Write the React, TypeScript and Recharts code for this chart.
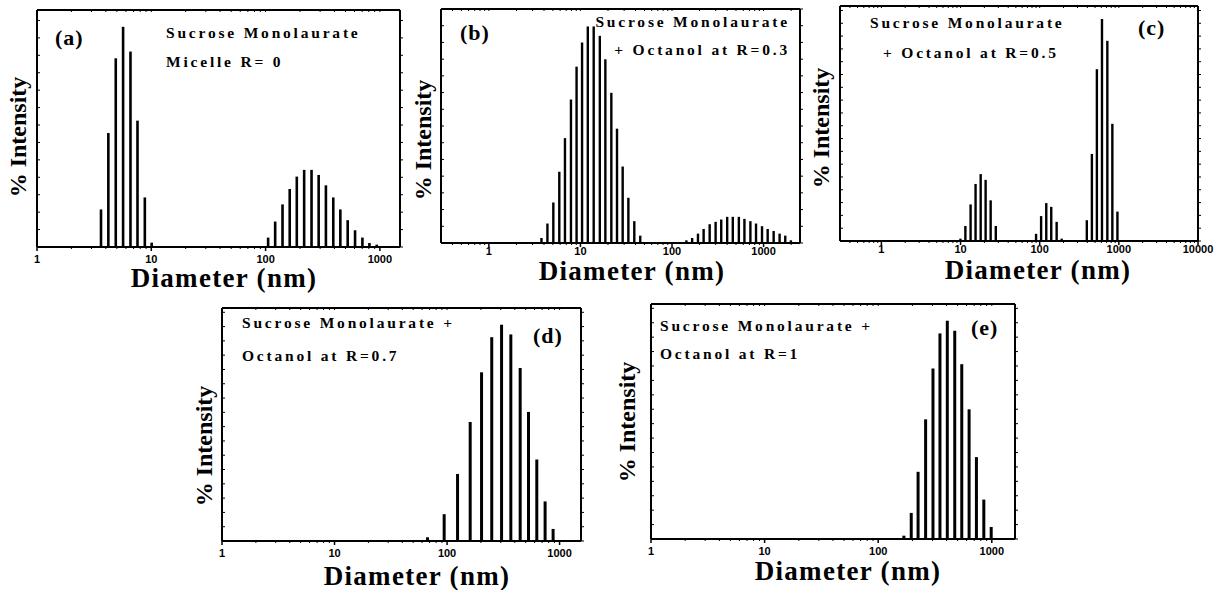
import React from "react";
import { BarChart, Bar, XAxis, YAxis } from "recharts";

// diameter bins (nm) and % intensity
const sizesA = [3.64, 4.22, 4.9, 5.68, 6.59, 7.59, 8.8, 10.1, 105.5, 121.6, 141, 163, 188, 218, 253, 292, 338, 392, 452, 524, 608, 705, 812, 941];
const intensityA = [4.31, 13.08, 21.66, 25.27, 22.43, 14.5, 5.69, 0.5, 1.08, 2.92, 4.89, 6.66, 8.08, 8.85, 8.85, 8.27, 7.08, 5.69, 4.31, 3.08, 1.92, 1.08, 0.46, 0.27];

const sizesB = [3.71, 4.31, 5.0, 5.81, 6.7, 7.79, 8.97, 10.3, 11.9, 13.8, 16.1, 18.5, 21.5, 24.8, 28.6, 33.0, 38.3, 44.5, 142, 164, 190, 219, 255, 296, 341, 396, 456, 531, 611, 710, 818, 951, 1096, 1274, 1480, 1706, 1965];
const intensityB = [0.6, 2.33, 4.85, 8.54, 12.55, 17.17, 21.1, 23.99, 25.91, 25.91, 24.79, 21.98, 17.97, 13.68, 9.15, 5.41, 2.61, 0.88, 0.32, 0.6, 1.12, 1.68, 2.25, 2.53, 2.81, 3.13, 3.13, 3.13, 2.89, 2.61, 2.33, 2.01, 1.68, 1.44, 1.12, 0.88, 0.32];

const sizesC = [10.05, 11.6, 13.5, 15.6, 18.1, 20.9, 24.2, 28.1, 90.7, 105, 122, 141, 165, 191, 397, 460, 532, 617, 721, 834, 967];
const intensityC = [0.37, 2.35, 5.71, 8.91, 10.45, 9.55, 6.35, 2.35, 1.12, 3.89, 5.92, 5.33, 2.99, 0.37, 3.25, 13.6, 26.83, 34.67, 31.26, 18.3, 4.59];

const sizesD = [66.4, 93.3, 122.7, 158.9, 200.5, 247, 302, 365, 442, 524, 621, 736, 867];
const intensityD = [0.52, 3.75, 9.38, 16.65, 23.6, 28.52, 30.26, 28.9, 24.21, 18.06, 11.4, 5.54, 1.69];

const sizesE = [168, 195, 224, 261, 303, 349, 405, 471, 543, 630, 731, 849, 986];
const intensityE = [0.46, 3.62, 9.32, 16.6, 23.65, 28.52, 30.28, 28.89, 24.25, 17.99, 11.36, 5.47, 1.67];

const decadeTicks = [1, 10, 100, 1000];
const decadeTicksWide = [1, 10, 100, 1000, 10000];
const minorTicks = [
  0.3, 0.4, 0.5, 0.6, 0.7, 0.8, 0.9,
  2, 3, 4, 5, 6, 7, 8, 9,
  20, 30, 40, 50, 60, 70, 80, 90,
  200, 300, 400, 500, 600, 700, 800, 900,
  2000, 3000, 4000, 5000, 6000, 7000, 8000, 9000,
];

const SERIF = "'Liberation Serif', 'Times New Roman', serif";
const SANS = "'Liberation Sans', Arial, sans-serif";

const zip = (sizes: number[], vals: number[]) =>
  sizes.map((d, i) => ({ d, intensity: vals[i] }));

interface PanelProps {
  data: { d: number; intensity: number }[];
  domain: [number, number];
  ticks: number[];
  left: number;
  top: number;
  right: number;
  bottom: number;
  yTop: number;
  barSize: number;
  labelDy?: number;
}

// outer margin + 1px axis slots put the plot box at (10, 10); extra room on the right for the last tick label
const M = { top: 9, right: 29, bottom: 0, left: 9 };
const BOTTOM_AXIS = 30;

function BottomTick(props: any) {
  const { x, y, payload, majors, labelDy } = props;
  const major = majors.includes(payload.value);
  return (
    <g>
      <line x1={x} y1={y} x2={x} y2={y + (major ? 4 : 2)} stroke="#000" strokeWidth={major ? 1.5 : 1} />
      {major && (
        <text x={x} y={y + labelDy} textAnchor="middle" fontFamily={SANS} fontWeight="bold" fontSize={11} fill="#000">
          {payload.value}
        </text>
      )}
    </g>
  );
}

function Panel({ data, domain, ticks, left, top, right, bottom, yTop, barSize, labelDy = 16 }: PanelProps) {
  const w = right - left + 40;
  const h = bottom - top + 10 + BOTTOM_AXIS;
  const minors = minorTicks.filter((t) => t > domain[0] && t < domain[1]);
  const allTicks = [...ticks, ...minors].sort((p, q) => p - q);
  const yTicks: number[] = [];
  for (let t = 0; t <= yTop; t += 2) yTicks.push(t);
  const axisLine = { stroke: "#000", strokeWidth: 2 };
  const tickLine = { stroke: "#000", strokeWidth: 1 };
  return (
    <div style={{ position: "absolute", left: left - 10, top: top - 10 }}>
      <BarChart width={w} height={h} data={data} margin={M}>
        <XAxis
          xAxisId="main"
          dataKey="d"
          type="number"
          scale="log"
          domain={domain}
          ticks={allTicks}
          interval={0}
          height={BOTTOM_AXIS}
          axisLine={axisLine}
          tickLine={false}
          tickSize={0}
          tickMargin={0}
          tick={<BottomTick majors={ticks} labelDy={labelDy} />}
          allowDataOverflow
        />
        <XAxis
          xAxisId="top"
          orientation="top"
          dataKey="d"
          type="number"
          scale="log"
          domain={domain}
          ticks={allTicks}
          interval={0}
          height={1}
          mirror
          axisLine={axisLine}
          tickLine={tickLine}
          tickSize={2}
          tickFormatter={() => ""}
          allowDataOverflow
        />
        <YAxis
          yAxisId="left"
          type="number"
          domain={[0, yTop]}
          ticks={yTicks}
          interval={0}
          width={1}
          mirror
          axisLine={axisLine}
          tickLine={tickLine}
          tickSize={3}
          tickFormatter={() => ""}
          allowDataOverflow
        />
        <YAxis
          yAxisId="right"
          orientation="right"
          type="number"
          domain={[0, yTop]}
          ticks={yTicks}
          interval={0}
          width={1}
          axisLine={axisLine}
          tickLine={tickLine}
          tickSize={3}
          tickFormatter={() => ""}
          allowDataOverflow
        />
        <Bar
          xAxisId="main"
          yAxisId="left"
          dataKey="intensity"
          fill="#000"
          barSize={barSize}
          isAnimationActive={false}
        />
      </BarChart>
    </div>
  );
}

function Title({ x, y, children, size = 15.5, spacing = 2.8, anchor = "start" }: any) {
  return (
    <text x={x} y={y} fontFamily={SERIF} fontWeight="bold" fontSize={size} letterSpacing={spacing} textAnchor={anchor} fill="#000">
      {children}
    </text>
  );
}

function YTitle({ x, y }: { x: number; y: number }) {
  return (
    <text
      x={x}
      y={y}
      transform={`rotate(-90 ${x} ${y})`}
      textAnchor="middle"
      dominantBaseline="central"
      fontFamily={SERIF}
      fontWeight="bold"
      fontSize={24}
      fill="#000"
    >
      % Intensity
    </text>
  );
}

function XTitle({ x, y }: { x: number; y: number }) {
  return (
    <text x={x} y={y} textAnchor="middle" fontFamily={SERIF} fontWeight="bold" fontSize={27} letterSpacing={1.3} fill="#000">
      Diameter (nm)
    </text>
  );
}

export default function App() {
  return (
    <div style={{ position: "absolute", left: 0, top: 0, width: 1215, height: 590, background: "#fff", overflow: "hidden" }}>
      <Panel data={zip(sizesA, intensityA)} domain={[1, 1500]} ticks={decadeTicks} left={38} top={11} right={400} bottom={247} yTop={27.2} barSize={2.6} />
      <Panel data={zip(sizesB, intensityB)} domain={[0.3, 2500]} ticks={decadeTicks} left={442} top={10} right={800} bottom={243} yTop={28} barSize={2.4} labelDy={12} />
      <Panel data={zip(sizesC, intensityC)} domain={[0.3, 10000]} ticks={decadeTicksWide} left={841} top={7} right={1198} bottom={241} yTop={36.7} barSize={2.4} labelDy={12} />
      <Panel data={zip(sizesD, intensityD)} domain={[1, 1550]} ticks={decadeTicks} left={223} top={309} right={581} bottom={541} yTop={32.6} barSize={3} />
      <Panel data={zip(sizesE, intensityE)} domain={[1, 1600]} ticks={decadeTicks} left={652} top={305} right={1015} bottom={539} yTop={32.6} barSize={3} />
      <svg width={1215} height={590} style={{ position: "absolute", left: 0, top: 0, pointerEvents: "none" }}>
        <Title x={55} y={45} size={22} spacing={1}>(a)</Title>
        <Title x={166} y={38}>Sucrose Monolaurate</Title>
        <Title x={166} y={67}>Micelle  R= 0</Title>
        <YTitle x={18} y={137} />
        <XTitle x={224} y={287} />

        <Title x={460} y={40} size={22} spacing={1}>(b)</Title>
        <Title x={790} y={27} anchor="end">Sucrose Monolaurate</Title>
        <Title x={790} y={55} anchor="end">+ Octanol at R=0.3</Title>
        <YTitle x={423} y={140} />
        <XTitle x={632} y={280} />

        <Title x={1138} y={35} size={22} spacing={1}>(c)</Title>
        <Title x={870} y={28}>Sucrose Monolaurate</Title>
        <Title x={883} y={58}>+ Octanol at R=0.5</Title>
        <YTitle x={821} y={128} />
        <XTitle x={1038} y={279} />

        <Title x={533} y={343} size={22} spacing={1}>(d)</Title>
        <Title x={242} y={328}>Sucrose Monolaurate +</Title>
        <Title x={242} y={361}>Octanol at R=0.7</Title>
        <YTitle x={204} y={446} />
        <XTitle x={417} y={585} />

        <Title x={971} y={335} size={22} spacing={1}>(e)</Title>
        <Title x={660} y={331}>Sucrose Monolaurate +</Title>
        <Title x={660} y={359}>Octanol at R=1</Title>
        <YTitle x={627} y={422} />
        <XTitle x={848} y={580} />
      </svg>
    </div>
  );
}
